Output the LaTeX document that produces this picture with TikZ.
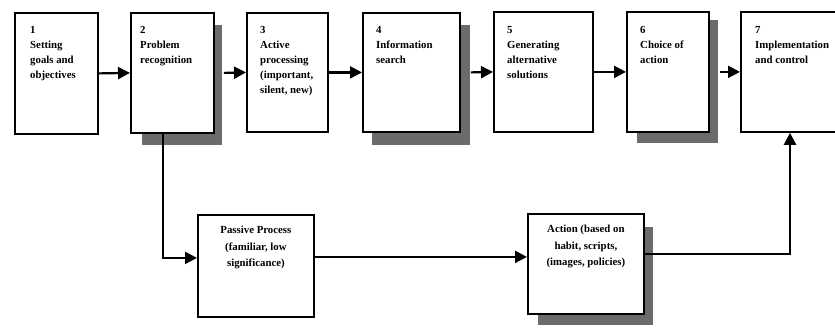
\documentclass[tikz,border=0pt]{standalone}
\usepackage{fontspec}
\setmainfont{Liberation Serif}
\usetikzlibrary{arrows.meta,calc}
\begin{document}
\begin{tikzpicture}[x=1pt,y=-1pt,
  box/.style={draw=black,line width=1.8pt,fill=white,anchor=north west,inner sep=0pt},
  txt/.style={anchor=north west,align=left,inner sep=0pt,font=\fontsize{10.8}{15}\selectfont\bfseries},
  ctxt/.style={anchor=north,align=center,inner sep=0pt,font=\fontsize{10.8}{16.5}\selectfont\bfseries},
  conn/.style={line width=2.2pt,-{Triangle[length=12pt,width=12pt]}}]
\useasboundingbox (0,0) rectangle (835,327);
% shadows
\fill[black!58] (222,25) rectangle (142,145);
\fill[black!58] (470,25) rectangle (372,145);
\fill[black!58] (718,20) rectangle (637,143);
\fill[black!58] (653,227) rectangle (538,325);
% boxes
\node[box,minimum width=83pt,minimum height=121pt] (b1) at (14,12) {};
\node[box,minimum width=83pt,minimum height=120pt] (b2) at (130,12) {};
\node[box,minimum width=81pt,minimum height=119pt] (b3) at (246,12) {};
\node[box,minimum width=97pt,minimum height=119pt] (b4) at (362,12) {};
\node[box,minimum width=99pt,minimum height=120pt] (b5) at (493,11) {};
\node[box,minimum width=82pt,minimum height=120pt] (b6) at (626,11) {};
\node[box,minimum width=110pt,minimum height=120pt] (b7) at (740,11) {};
\node[box,minimum width=116pt,minimum height=102pt] (pp) at (197,214) {};
\node[box,minimum width=116pt,minimum height=100pt] (ac) at (527,213) {};
% texts
\node[txt] (t1) at ($(b1.north west)+(16,14)$) {1\\Setting\\goals and\\objectives};
\node[txt] (t2) at ($(b2.north west)+(10,14)$) {2\\Problem\\recognition};
\node[txt] (t3) at ($(b3.north west)+(14,14)$) {3\\Active\\processing\\(important,\\silent, new)};
\node[txt] (t4) at ($(b4.north west)+(14,14)$) {4\\Information\\search};
\node[txt] (t5) at ($(b5.north west)+(14,15)$) {5\\Generating\\alternative\\solutions};
\node[txt] (t6) at ($(b6.north west)+(14,15)$) {6\\Choice of\\action};
\node[txt] (t7) at ($(b7.north west)+(15,15)$) {7\\Implementation\\and control};
\node[ctxt] (tp) at ($(pp.north)+(0,12)$) {Passive Process\\(familiar, low\\significance)};
\node[ctxt] (ta) at ($(ac.north)+(0,12)$) {Action (based on\\habit, scripts,\\(images, policies)};
% connectors
\draw[conn] (b1.east) -- (b2.west);
\draw[conn] ($(b2.east)+(9,0)$) -- (b3.west);
\draw[conn] (b3.east) -- (b4.west);
\draw[conn] ($(b4.east)+(10,0)$) -- (b5.west);
\draw[conn] (b5.east) -- (b6.west);
\draw[conn] ($(b6.east)+(10,0)$) -- (b7.west);
\coordinate (down) at ($(b2.south west)+(33,0)$);
\draw[conn] (down) |- ($(pp.west)+(0,-8)$);
\draw[conn] ($(pp.east)+(0,-9)$) -- ($(ac.west)+(0,-7)$);
\coordinate (up) at ($(b7.south west)+(50,0)$);
\draw[conn] ($(ac.east)+(0,-10)$) -| (up);
\end{tikzpicture}
\end{document}
